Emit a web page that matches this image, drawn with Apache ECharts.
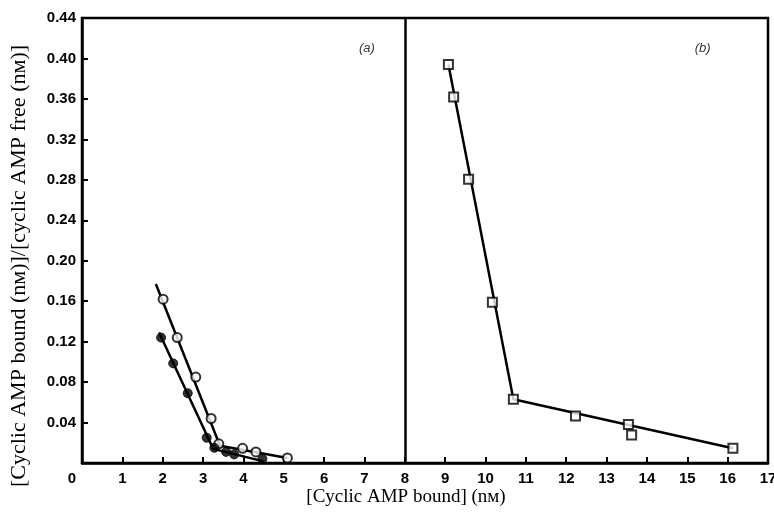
<!DOCTYPE html>
<html>
<head>
<meta charset="utf-8">
<script src="https://cdn.jsdelivr.net/npm/echarts@6/dist/echarts.min.js"></script>
<style>html,body{margin:0;padding:0;background:#fff;}#c{width:774px;height:513px;}</style>
</head>
<body>
<div id="c"></div>
<script>
// ---- data ----
// Panel (a): open circles
const openX = [2.01, 2.36, 2.82, 3.20, 3.39, 3.98, 4.31, 5.09];
const openY = [0.162, 0.124, 0.085, 0.044, 0.019, 0.0145, 0.011, 0.005];
// Panel (a): filled circles
const filledX = [1.96, 2.26, 2.62, 3.09, 3.28, 3.57, 3.77, 4.47];
const filledY = [0.124, 0.0985, 0.069, 0.025, 0.015, 0.011, 0.0085, 0.004];
// Fitted lines (a)
const openFitX = [1.83, 3.42, 5.09];
const openFitY = [0.177, 0.017, 0.005];
const filledFitX = [1.91, 3.25, 4.5];
const filledFitY = [0.129, 0.014, 0.0016];
// Panel (b): squares
const sqX = [9.08, 9.21, 9.58, 10.17, 10.69, 12.23, 13.54, 13.62, 16.13];
const sqY = [0.394, 0.362, 0.2805, 0.159, 0.063, 0.0465, 0.038, 0.0277, 0.0145];
// Fitted line (b)
const sqFitX = [9.08, 10.69, 16.13];
const sqFitY = [0.394, 0.063, 0.0145];
// Axes
const xTicks = [0, 17, 1];
const yTicks = [0, 0.44, 0.04];
const dividerX = 8;
const panelLabels = ['(a)', '(b)'];
const panelLabelPos = [[7.06, 0.410], [15.38, 0.410]];

const zip = (xs, ys) => xs.map((x, i) => [x, ys[i]]);
const chart = echarts.init(document.getElementById('c'));
const tickFont = {fontFamily: 'Liberation Sans', fontWeight: 'bold', fontSize: 15, color: '#000'};

chart.setOption({
  animation: false,
  backgroundColor: '#fff',
  grid: {left: 82, right: 6, top: 18, bottom: 50, show: true, borderColor: '#000', borderWidth: 2.5,
    containLabel: false, outerBoundsMode: 'none'},
  xAxis: {
    type: 'value', min: xTicks[0], max: xTicks[1], interval: xTicks[2],
    axisLine: {lineStyle: {color: '#000', width: 2.5}},
    axisTick: {inside: true, length: 6, lineStyle: {color: '#000', width: 2}},
    splitLine: {show: false},
    axisLabel: Object.assign({margin: 8, formatter: v => v === 0 ? '{z|0}' : String(v),
      rich: {z: {fontFamily: 'Liberation Sans', fontWeight: 'bold', fontSize: 15, color: '#000', padding: [0, 20, 0, 0]}}}, tickFont)
  },
  yAxis: {
    type: 'value', min: yTicks[0], max: yTicks[1], interval: yTicks[2],
    axisLine: {lineStyle: {color: '#000', width: 2.5}},
    axisTick: {inside: true, length: 6, lineStyle: {color: '#000', width: 2}},
    splitLine: {show: false},
    axisLabel: Object.assign({margin: 6, formatter: v => v === 0 ? '' : v.toFixed(2)}, tickFont)
  },
  graphic: [
    {type: 'text', x: 19, y: 266, rotation: Math.PI / 2,
      style: {text: '[Cyclic AMP bound (nᴍ)]/[cyclic AMP free (nᴍ)]', textAlign: 'center', textVerticalAlign: 'middle',
        font: '22px "Liberation Serif"', fill: '#000'}},
    {type: 'text', x: 406, y: 497,
      style: {text: '[Cyclic AMP bound] (nᴍ)', textAlign: 'center', textVerticalAlign: 'middle',
        font: '19px "Liberation Serif"', fill: '#000'}}
  ],
  series: [
    {type: 'line', data: zip(openFitX, openFitY), symbol: 'none', lineStyle: {color: '#000', width: 2.5}, z: 2,
      markLine: {silent: true, symbol: 'none', label: {show: false}, lineStyle: {color: '#000', width: 2.5, type: 'solid'},
        data: [{xAxis: dividerX}]}},
    {type: 'line', data: zip(filledFitX, filledFitY), symbol: 'none', lineStyle: {color: '#000', width: 2.5}, z: 2},
    {type: 'line', data: zip(sqFitX, sqFitY), symbol: 'none', lineStyle: {color: '#000', width: 2.5}, z: 2},
    {type: 'scatter', data: zip(openX, openY), symbol: 'circle', symbolSize: 9,
      itemStyle: {color: '#fff', borderColor: '#000', borderWidth: 2}, z: 3},
    {type: 'scatter', data: zip(filledX, filledY), symbol: 'circle', symbolSize: 9,
      itemStyle: {color: '#000', borderColor: '#000', borderWidth: 1}, z: 3},
    {type: 'scatter', data: zip(sqX, sqY), symbol: 'rect', symbolSize: 9,
      itemStyle: {color: '#fff', borderColor: '#000', borderWidth: 2}, z: 3},
    {type: 'scatter', data: panelLabelPos, symbolSize: 0, silent: true,
      label: {show: true, position: 'inside', formatter: p => panelLabels[p.dataIndex],
        fontFamily: 'Liberation Sans', fontStyle: 'italic', fontSize: 13, color: '#000'}}
  ]
});
</script>
</body>
</html>
